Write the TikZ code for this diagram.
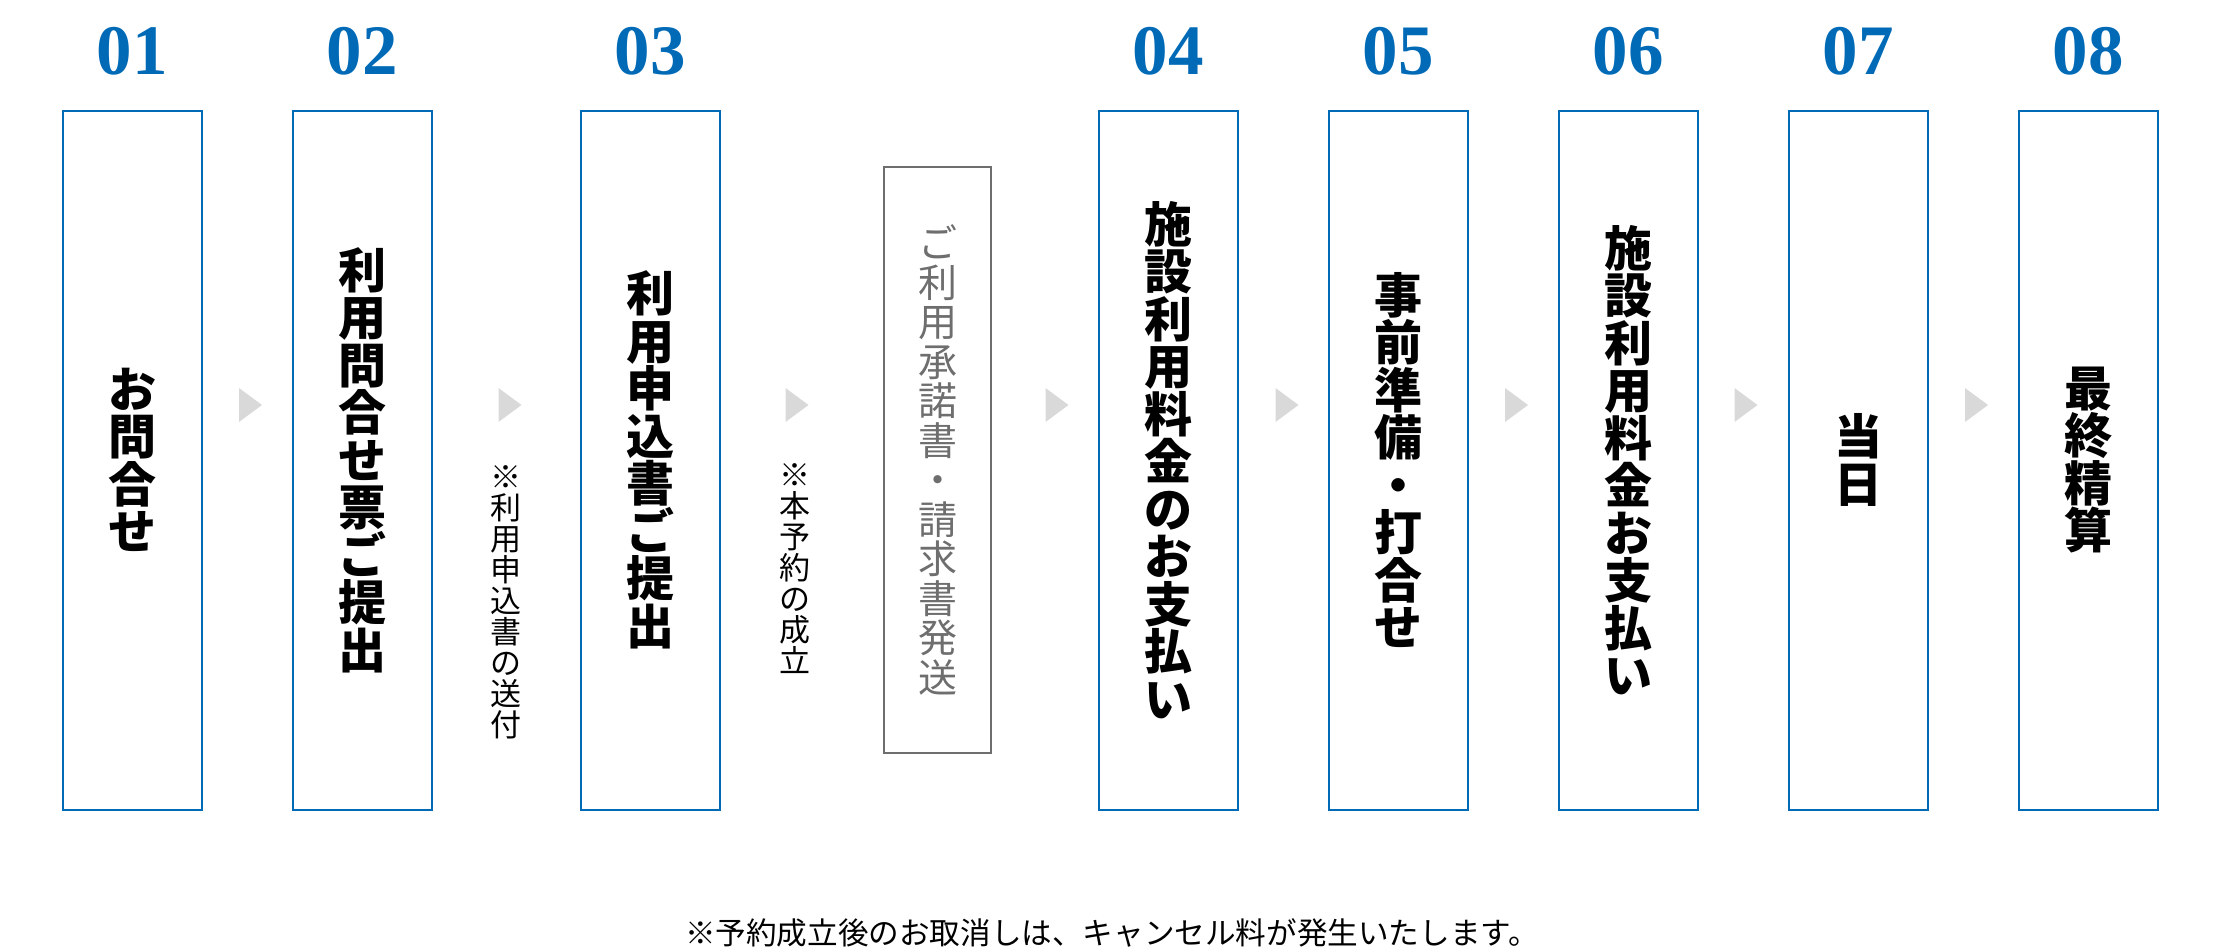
\documentclass[tikz,border=0pt]{standalone}
\usepackage{fontspec}
\setmainfont{Liberation Serif}
\newfontfamily\cjk{Noto Sans CJK JP}
\definecolor{stepblue}{RGB}{0,106,183}
\definecolor{boxgray}{RGB}{110,110,110}
\definecolor{arrowgray}{RGB}{217,217,217}
\begin{document}
\begin{tikzpicture}[x=1pt,y=-1pt,
  stepbox/.style={draw=stepblue, line width=2pt, minimum width=139pt, minimum height=699pt,
    inner sep=0pt, align=center, text=black, font=\cjk\bfseries\fontsize{48}{47.5}\selectfont},
  graybox/.style={draw=boxgray, line width=2pt, minimum width=107pt, minimum height=586pt,
    inner sep=0pt, align=center, text=boxgray, font=\cjk\fontsize{39}{39.5}\selectfont},
  notetext/.style={inner sep=0pt, align=center, text=black, font=\cjk\fontsize{31}{31}\selectfont},
  numtext/.style={inner sep=0pt, anchor=base, text=stepblue, font=\bfseries\fontsize{71}{71}\selectfont},
  foottext/.style={inner sep=0pt, text=black, font=\cjk\fontsize{30.6}{30.6}\selectfont},
  flowtri/.style={fill=arrowgray, draw=none}
]
\useasboundingbox (0,0) rectangle (2220,948);

% step numbers
\node[numtext] (n1) at (132,74) {01};
\node[numtext] (n2) at (362,74) {02};
\node[numtext] (n3) at (650,74) {03};
\node[numtext] (n4) at (1168,74) {04};
\node[numtext] (n5) at (1398,74) {05};
\node[numtext] (n6) at (1628,74) {06};
\node[numtext] (n7) at (1858,74) {07};
\node[numtext] (n8) at (2088,74) {08};

% step boxes
\node[stepbox] (b1) at (132,460) {お\\問\\合\\せ};
\node[stepbox] (b2) at (362,460) {利\\用\\問\\合\\せ\\票\\ご\\提\\出};
\node[stepbox] (b3) at (650,460) {利\\用\\申\\込\\書\\ご\\提\\出};
\node[graybox] (g1) at (937.5,460) {ご\\利\\用\\承\\諾\\書\\・\\請\\求\\書\\発\\送};
\node[stepbox] (b4) at (1168,460) {施\\設\\利\\用\\料\\金\\の\\お\\支\\払\\い};
\node[stepbox] (b5) at (1398,460) {事\\前\\準\\備\\・\\打\\合\\せ};
\node[stepbox] (b6) at (1628,460) {施\\設\\利\\用\\料\\金\\お\\支\\払\\い};
\node[stepbox] (b7) at (1858,460) {当\\日};
\node[stepbox] (b8) at (2088,460) {最\\終\\精\\算};

% notes
\node[notetext] (m1) at (506,602) {※\\利\\用\\申\\込\\書\\の\\送\\付};
\node[notetext] (m2) at (795,569) {※\\本\\予\\約\\の\\成\\立};

% arrow triangles
\foreach \cx in {250.5,510,797,1057,1287,1516.5,1746,1976.5}{
  \fill[flowtri] (\cx-11.5,388) -- (\cx+11.5,405) -- (\cx-11.5,422) -- cycle;
}

% footnote
\node[foottext] (f1) at (1112,933) {※予約成立後のお取消しは、キャンセル料が発生いたします。};
\end{tikzpicture}
\end{document}
